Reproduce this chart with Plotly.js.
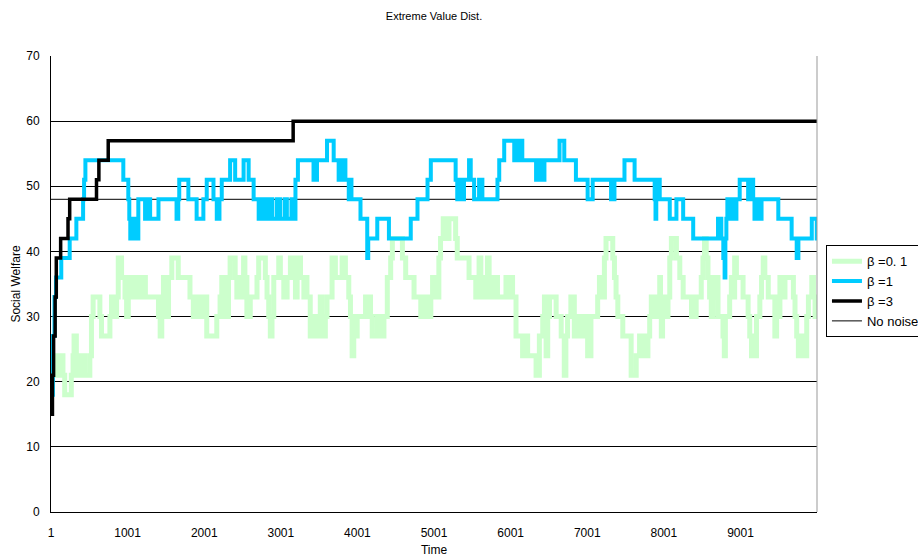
<!DOCTYPE html>
<html>
<head>
<meta charset="utf-8">
<script src="https://cdn.plot.ly/plotly-3.0.1.min.js"></script>
<style>html,body{margin:0;padding:0;background:#fff;}#chart{width:918px;height:559px;}</style>
</head>
<body>
<div id="chart"></div>
<script>
// ---- data ----
const seriesNames = ["β =0. 1", "β =1", "β =3", "No noise"];

const greenT = [1,49,92,157,180,266,289,302,332,354,398,420,442,508,529,551,639,660,770,791,836,857,879,922,967,988,1010,1033,1054,1089,1115,1155,1194,1233,1404,1426,1447,1469,1492,1513,1535,1578,1662,1815,1859,1902,1946,1990,2034,2165,2208,2230,2253,2318,2339,2405,2427,2453,2480,2515,2532,2558,2602,2690,2712,2799,2821,2843,2864,2886,2909,2974,2995,3040,3083,3126,3171,3192,3214,3258,3302,3323,3342,3385,3411,3437,3464,3494,3516,3538,3582,3604,3670,3713,3801,3844,3888,3910,3932,3953,3975,3998,4107,4172,4194,4260,4303,4347,4391,4435,4457,4588,4631,4740,4828,4871,4894,4959,4982,5021,5064,5086,5121,5173,5196,5283,5304,5458,5546,5567,5589,5612,5677,5698,5720,5743,5764,5808,5829,5940,5983,6005,6026,6071,6157,6202,6223,6333,6376,6420,6442,6464,6485,6508,6595,6661,6701,6722,6744,6787,6832,6875,6940,6963,7006,7049,7137,7160,7203,7225,7246,7334,7356,7377,7400,7465,7574,7640,7684,7728,7793,7816,7837,7859,7885,7911,7947,7957,7968,7984,8003,8055,8078,8099,8165,8209,8253,8362,8423,8489,8511,8532,8554,8577,8598,8620,8642,8663,8685,8708,8773,8790,8804,8860,8882,8904,8925,8948,9035,9101,9122,9145,9210,9254,9276,9298,9319,9364,9450,9473,9495,9516,9561,9582,9692,9713,9735,9757,9800,9844,9866,9888,9932,9954,9975,10000];
const greenV = [24,21,24,21,18,21,24,27,21,24,21,24,21,24,30,33,30,27,30,33,30,33,39,36,33,30,36,33,36,33,36,33,36,33,30,27,30,36,33,30,36,39,36,33,30,33,30,33,27,30,33,36,30,36,39,36,33,36,33,39,36,30,33,36,39,36,33,30,27,30,36,39,36,33,36,39,36,33,39,36,33,36,33,27,30,27,30,27,33,27,30,33,39,36,39,36,33,30,24,30,27,30,33,30,27,30,27,30,36,39,42,39,36,33,30,33,30,33,36,33,39,42,45,42,45,42,39,36,33,36,39,33,36,39,33,36,33,36,33,36,33,36,33,27,24,27,24,21,27,30,33,24,30,33,30,27,21,27,30,33,27,30,27,30,24,30,33,36,33,39,42,39,36,33,30,27,21,24,27,24,27,30,33,30,33,30,36,33,27,33,30,33,39,42,39,36,33,30,33,36,39,42,39,36,33,30,36,33,36,30,27,24,30,33,36,33,39,36,33,30,27,24,30,33,36,39,36,33,27,33,30,36,33,36,33,30,27,24,27,24,30,33,36,33,30,30];

const blueT = [1,26,46,66,135,245,332,420,433,450,945,1010,1023,1036,1050,1063,1089,1102,1115,1128,1141,1229,1246,1295,1404,1640,1662,1675,1794,1902,1990,2034,2122,2165,2200,2230,2339,2405,2515,2581,2646,2712,2760,2800,2850,2890,2950,2990,3050,3080,3140,3160,3192,3224,3428,3473,3604,3691,3756,3779,3798,3818,3844,3888,3903,3923,4041,4129,4142,4260,4412,4697,4785,4916,4959,5283,5304,5340,5366,5392,5458,5480,5524,5589,5632,5829,5852,5917,6048,6075,6101,6127,6153,6333,6354,6399,6442,6639,6701,6853,7006,7072,7312,7356,7487,7619,7881,7892,7902,7947,8078,8165,8253,8384,8708,8751,8777,8794,8804,8817,8830,8882,8902,8922,8948,8991,9101,9114,9132,9145,9167,9184,9210,9254,9276,9495,9669,9735,9757,9932,9997,10000];
const blueV = [18,27,33,36,39,42,45,48,51,54,51,48,45,42,45,42,45,42,45,42,48,45,48,45,48,45,48,51,48,45,48,51,48,45,48,51,54,51,54,51,48,45,48,45,48,45,48,45,48,45,48,45,51,54,51,54,57,54,51,54,51,54,51,48,51,48,45,39,42,45,42,45,48,51,54,51,48,51,48,51,54,51,48,51,48,51,54,57,54,57,54,57,54,51,54,51,54,57,54,51,48,51,48,51,54,51,48,45,51,48,45,48,45,42,45,42,39,36,42,45,48,45,48,45,48,51,48,51,48,51,48,45,48,45,48,45,42,39,42,45,42,42];

const blackT = [1,20,35,55,70,127,223,245,595,626,748,3162,10000];
const blackV = [15,21,27,33,39,42,45,48,51,54,57,60,60];

const noNoiseT = [1, 10000];
const noNoiseV = [48, 48];

const xTickVals = [1,1001,2001,3001,4001,5001,6001,7001,8001,9001];
const xTickText = ["1","1001","2001","3001","4001","5001","6001","7001","8001","9001"];

// ---- chart ----
const FONT = "Liberation Sans, Arial, sans-serif";
const traces = [
  {x: noNoiseT, y: noNoiseV, name: seriesNames[3], mode: "lines", line: {color: "#000000", width: 1}, legendrank: 4},
  {x: greenT, y: greenV, name: seriesNames[0], mode: "lines", line: {color: "#ccffcc", width: 5, shape: "hv"}, legendrank: 1},
  {x: blueT, y: blueV, name: seriesNames[1], mode: "lines", line: {color: "#00ccff", width: 4, shape: "hv"}, legendrank: 2},
  {x: blackT, y: blackV, name: seriesNames[2], mode: "lines", line: {color: "#000000", width: 3.5, shape: "hv"}, legendrank: 3}
];

const layout = {
  width: 918, height: 559,
  margin: {l: 51, r: 101, t: 56, b: 47, autoexpand: false},
  paper_bgcolor: "#ffffff", plot_bgcolor: "#ffffff",
  font: {family: FONT, size: 12, color: "#000"},
  title: {text: "Extreme Value Dist.", font: {family: FONT, size: 11, color: "#000"}, x: 0.5, xanchor: "center", xref: "paper", y: 0.972, yref: "container", yanchor: "middle"},
  showlegend: true,
  legend: {x: 1.0117, xanchor: "left", y: 0.585, yanchor: "top", bordercolor: "#000", borderwidth: 1, bgcolor: "#fff", font: {family: FONT, size: 13, color: "#000"}, tracegroupgap: 0},
  xaxis: {
    range: [1, 10000], showgrid: false, zeroline: false, showline: true, linecolor: "#000", linewidth: 1,
    tickmode: "array", tickvals: xTickVals, ticktext: xTickText, ticks: "", ticklabelstandoff: 10,
    tickfont: {family: FONT, size: 12, color: "#000"},
    title: {text: "Time", font: {family: FONT, size: 12, color: "#000"}, standoff: 6}
  },
  yaxis: {
    range: [0, 70], dtick: 10, tick0: 0, showgrid: true, gridcolor: "#000", gridwidth: 1, zeroline: false,
    showline: true, linecolor: "#000", linewidth: 1, ticks: "", ticklabelstandoff: 8,
    tickfont: {family: FONT, size: 12, color: "#000"},
    title: {text: "Social Welfare", font: {family: FONT, size: 12, color: "#000"}, standoff: 3}
  },
  shapes: [
    {type: "line", xref: "paper", yref: "paper", x0: 1, x1: 1, y0: 0, y1: 1, line: {color: "#999999", width: 1}}
  ]
};

Plotly.newPlot("chart", traces, layout, {displayModeBar: false, staticPlot: true});
</script>
</body>
</html>
